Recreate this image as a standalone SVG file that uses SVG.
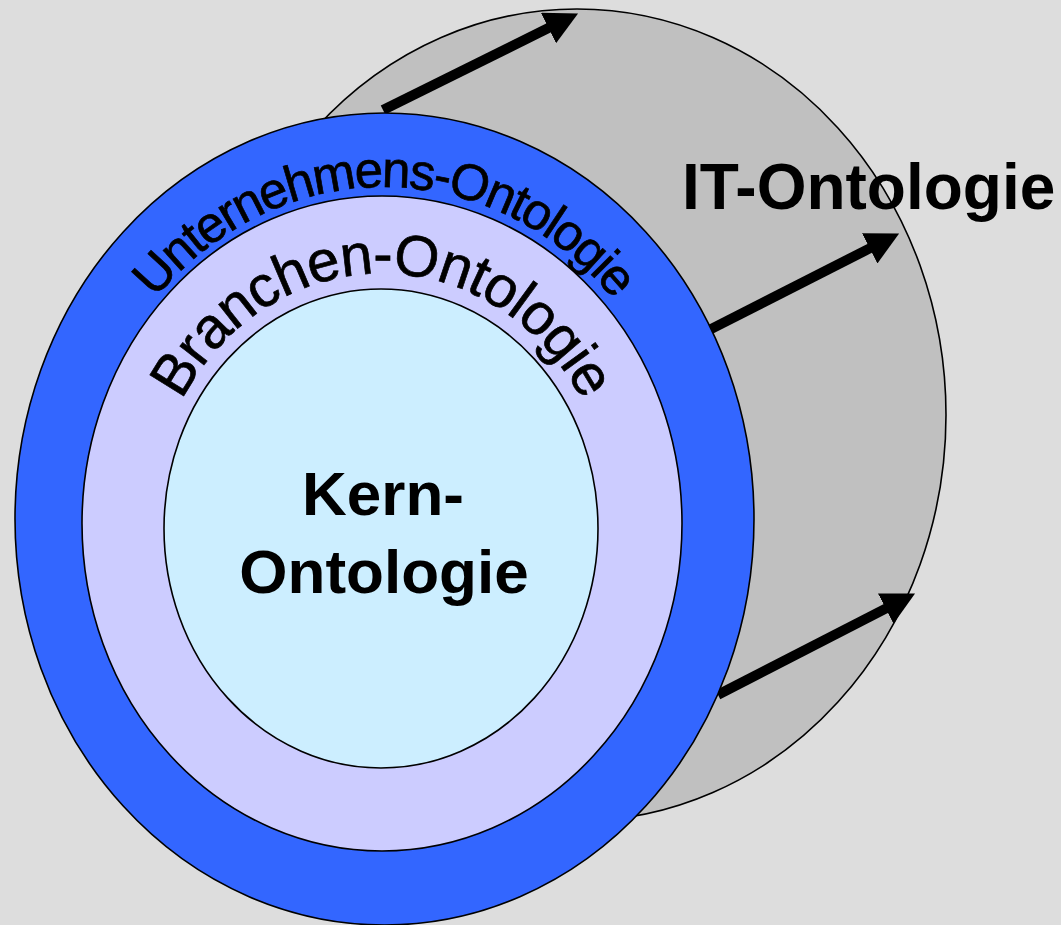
<svg xmlns="http://www.w3.org/2000/svg" width="1061" height="925" viewBox="0 0 1061 925">
<style>
.ring{stroke:#000;stroke-width:1.6}
.arr{stroke:#000;stroke-width:10;fill:none;marker-end:url(#ah)}
.t{font-family:"Liberation Sans",Arial,sans-serif;fill:#000}
.b{font-weight:bold}
.arc{stroke:#000;stroke-width:0.7}
</style>
<defs>
<marker id="ah" markerUnits="userSpaceOnUse" markerWidth="34" markerHeight="34" viewBox="0 0 34 34" refX="1" refY="17" orient="auto"><path d="M0,0 L33,17 L0,34 z" fill="#000"/></marker>
<path id="pU" d="M78,519 A306,332 0 0 1 690,519"/>
<path id="pB" d="M152,523.5 A230,250 0 0 1 612,523.5"/>
</defs>
<rect width="1061" height="925" fill="#dddddd"/>
<g id="it-ontologie">
<ellipse class="ring" cx="577" cy="415" rx="369" ry="406" fill="#c0c0c0"/>
</g>
<g id="connectors">
<line class="arr" x1="383" y1="110" x2="549.4" y2="27.6"/>
<line class="arr" x1="704" y1="332.6" x2="870.6" y2="247.9"/>
<line class="arr" x1="718" y1="694.7" x2="886.6" y2="608.1"/>
</g>
<g id="unternehmens-ontologie">
<ellipse class="ring" cx="384.5" cy="519" rx="369.5" ry="406" fill="#3366ff"/>
<text class="t arc" font-size="51" letter-spacing="-2"><textPath href="#pU" startOffset="50%" text-anchor="middle">Unternehmens-Ontologie</textPath></text>
</g>
<g id="branchen-ontologie">
<ellipse class="ring" cx="382" cy="523.5" rx="300" ry="327.5" fill="#ccccff"/>
<text class="t arc" font-size="58" letter-spacing="-1"><textPath href="#pB" startOffset="50%" text-anchor="middle">Branchen-Ontologie</textPath></text>
</g>
<g id="kern-ontologie">
<ellipse class="ring" cx="381" cy="528.5" rx="217" ry="239.5" fill="#cceeff"/>
<text class="t b" font-size="62" text-anchor="middle"><tspan x="383" y="515">Kern-</tspan><tspan x="384" y="593">Ontologie</tspan></text>
</g>
<text id="it-label" class="t b" font-size="64" x="682" y="209">IT-Ontologie</text>
</svg>
